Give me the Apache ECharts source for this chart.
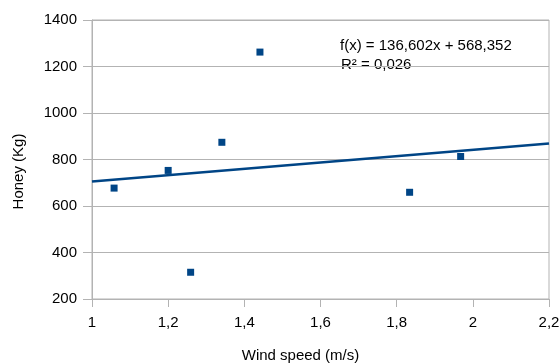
<!DOCTYPE html>
<html>
<head>
<meta charset="utf-8">
<script src="https://cdn.jsdelivr.net/npm/echarts@6/dist/echarts.min.js"></script>
<style>
  html, body { margin: 0; padding: 0; background: #fff; }
  #chart { width: 560px; height: 364px; }
</style>
</head>
<body>
<div id="chart"></div>
<script>
// wind speed (m/s) vs honey (kg)
const windSpeed = [1.058, 1.2, 1.259, 1.341, 1.441, 1.834, 1.968];
const honey = [677, 753, 315, 874, 1262, 659, 813];
// trend line end points
const trendX = [1, 2.2];
const trendY = [705, 869];
const equationText = 'f(x) = 136,602x + 568,352';
const r2Text = 'R² = 0,026';

const chart = echarts.init(document.getElementById('chart'));
const font = 'Liberation Sans, Arial, sans-serif';
const grey = '#b3b3b3';
const blue = '#004586';
const comma = v => String(v).replace('.', ',');

const option = {
  animation: false,
  backgroundColor: '#fff',
  grid: {
    left: 92, right: 11, top: 20, bottom: 65,
    outerBoundsMode: 'none', containLabel: false,
    show: true, borderColor: grey, borderWidth: 1
  },
  xAxis: {
    type: 'value',
    min: 1, max: 2.2, interval: 0.2,
    name: 'Wind speed (m/s)',
    nameLocation: 'middle',
    nameGap: 49,
    nameTextStyle: { color: '#000', fontFamily: font, fontSize: 15, padding: [0, 40, 0, 0] },
    axisLine: { show: true, lineStyle: { color: grey } },
    axisTick: { show: true, length: 8, lineStyle: { color: grey } },
    axisLabel: {
      color: '#000', fontFamily: font, fontSize: 15, margin: 16,
      formatter: v => comma(Math.round(v * 10) / 10)
    },
    splitLine: { show: false }
  },
  yAxis: {
    type: 'value',
    min: 200, max: 1400, interval: 200,
    name: 'Honey (Kg)',
    nameLocation: 'middle',
    nameGap: 66,
    nameTextStyle: { color: '#000', fontFamily: font, fontSize: 15, padding: [0, 24, 0, 0] },
    axisLine: { show: true, lineStyle: { color: grey } },
    axisTick: { show: true, length: 9, lineStyle: { color: grey } },
    axisLabel: { color: '#000', fontFamily: font, fontSize: 15, margin: 15, formatter: v => String(v) },
    splitLine: { show: true, lineStyle: { color: grey } }
  },
  series: [
    {
      type: 'line',
      data: trendX.map((x, i) => [x, trendY[i]]),
      symbol: 'none',
      lineStyle: { color: blue, width: 2.5 },
      silent: true
    },
    {
      type: 'scatter',
      data: windSpeed.map((x, i) => [x, honey[i]]),
      symbol: 'rect',
      symbolSize: 7,
      itemStyle: { color: blue, opacity: 1 }
    }
  ],
  graphic: [
    {
      type: 'text', left: 340, top: 38,
      style: { text: equationText, fill: '#000', font: '15px ' + font }
    },
    {
      type: 'text', left: 341, top: 57,
      style: { text: r2Text, fill: '#000', font: '15px ' + font }
    }
  ]
};
chart.setOption(option);
</script>
</body>
</html>
